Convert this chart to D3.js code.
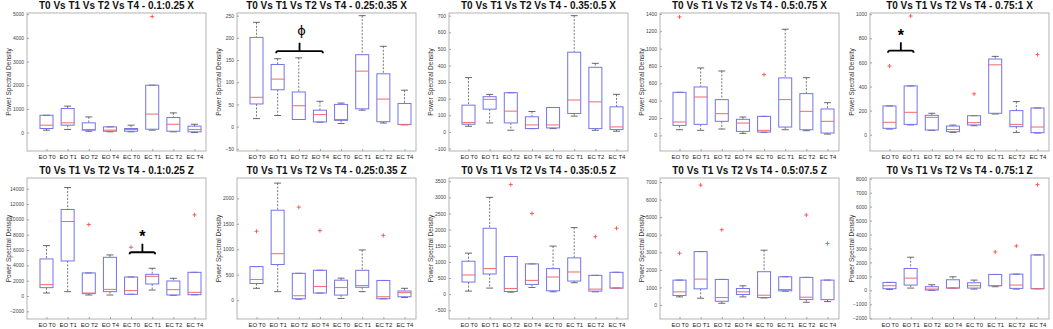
<!DOCTYPE html>
<html>
<head>
<meta charset="utf-8">
<script src="https://d3js.org/d3.v7.min.js"></script>
<style>
  body { margin:0; background:#fff; }
  svg { display:block; font-family:"Liberation Sans", Arial, sans-serif; }
</style>
</head>
<body>
<svg id="chart"></svg>
<script>
var categories = ["EO T0","EO T1","EO T2","EO T4","EC T0","EC T1","EC T2","EC T4"];

var titles = [
  "T0 Vs T1 Vs T2 Vs T4 - 0.1:0.25 X",
  "T0 Vs T1 Vs T2 Vs T4 - 0.25:0.35 X",
  "T0 Vs T1 Vs T2 Vs T4 - 0.35:0.5 X",
  "T0 Vs T1 Vs T2 Vs T4 - 0.5:0.75 X",
  "T0 Vs T1 Vs T2 Vs T4 - 0.75:1 X",
  "T0 Vs T1 Vs T2 Vs T4 - 0.1:0.25 Z",
  "T0 Vs T1 Vs T2 Vs T4 - 0.25:0.35 Z",
  "T0 Vs T1 Vs T2 Vs T4 - 0.35:0.5 Z",
  "T0 Vs T1 Vs T2 Vs T4 - 0.5:07.5 Z",
  "T0 Vs T1 Vs T2 Vs T4 - 0.75:1 Z"
];

// each box: [lower whisker, q1, median, q3, upper whisker]
var box01X = [[100,170,310,730,730],[130,310,410,1017,1115],[55,100,130,410,660],[30,55,100,240,240],
              [30,55,130,170,310],[100,140,780,2000,2000],[30,55,350,635,830],[0,30,130,270,350]];
var box025X = [[18,51,66,201,235],[25,83,107,140,153],[16,16,47,78,155],[10,10.5,27,37,57],
               [7,14,16,50,53],[37,40,125,162,250],[8,11,62,119,181],[4,4.5,5,52,82]];
var box035X = [[34,46,56,161,327],[54,137,196,212,226],[10,54,125,236,236],[20,20,42,91,123],
               [20,24,42,147,147],[95,111,192,480,700],[10,20,181,389,413],[4,14,30,151,226]];
var box05X = [[65,115,154,496,496],[58,127,442,558,777],[73,162,250,412,742],[23,46,142,185,212],
              [35,38,58,219,219],[65,96,412,662,1223],[54,65,277,481,665],[15,27,162,304,377]];
var box075X = [[47,53,103,239,239],[81,86,186,405,405],[36,39,144,161,178],[19,25,44,72,80],
               [75,81,100,158,158],[172,178,580,628,650],[19,67,86,200,275],[14,17,64,222,222]];
var box01Z = [[390,1090,1480,4840,6580],[570,4575,9720,11290,14160],[130,305,390,3010,3010],[130,570,870,5050,5360],
              [220,220,700,2480,2480],[780,1570,2570,2830,3620],[90,130,830,1960,2310],[170,170,480,3090,3090]];
var box025Z = [[233,327,407,660,660],[167,700,913,1767,2300],[20,27,87,527,527],[140,140,267,587,587],
               [33,100,247,393,433],[167,253,287,587,987],[27,27,67,387,387],[53,67,147,180,233]];
var box035Z = [[94,375,594,1021,1271],[188,625,792,2042,3000],[62,83,177,1167,1167],[208,302,427,938,938],
               [73,104,531,792,1490],[354,406,687,1125,2062],[73,94,156,583,583],[188,188,188,677,677]];
var box05Z = [[459,535,746,1415,1415],[382,918,1472,3040,3040],[96,210,421,1453,1453],[459,593,746,937,1090],
              [400,421,554,1893,3117],[784,803,880,1606,1606],[153,306,440,1568,1568],[191,306,306,1415,1415]];
var box075Z = [[71,119,333,570,570],[166,380,879,1568,2375],[0,24,95,261,404],[166,166,166,760,974],
               [95,166,333,546,736],[261,333,333,1140,1140],[95,143,380,1164,1164],[119,119,119,2541,2541]];

// outliers: [category index, value]
var out01X = [[5,4900]];
var out025X = [];
var out035X = [];
var out05X = [[0,1365],[4,700]];
var out075X = [[0,570],[1,985],[4,339],[7,665]];
var out01Z = [[2,9330],[4,6360],[7,10590]];
var out025Z = [[0,1353],[2,1827],[3,1367],[6,1273]];
var out035Z = [[2,3396],[3,2500],[6,1781],[7,2042]];
var out05Z = [[0,2945],[1,6826],[2,4283],[6,5124],[7,3499]];
var out075Z = [[5,2755],[6,3183],[7,7577]];

var yLimits = [[-780,5050],[-55,256],[-115,716],[-180,1410],[-135,1010],
               [-3000,15400],[-370,2400],[-770,3600],[-800,7230],[-2050,8050]];

var yTickValues = [
  [0,1000,2000,3000,4000,5000],
  [-50,0,50,100,150,200,250],
  [-100,0,100,200,300,400,500,600,700],
  [0,200,400,600,800,1000,1200,1400],
  [0,200,400,600,800,1000],
  [-2000,0,2000,4000,6000,8000,10000,12000,14000],
  [0,500,1000,1500,2000],
  [-500,0,500,1000,1500,2000,2500,3000,3500],
  [0,1000,2000,3000,4000,5000,6000,7000],
  [-2000,-1000,0,1000,2000,3000,4000,5000,6000,7000,8000]
];

// significance brackets: panel index, from category, to category, y value, symbol
var bracketPanels = [1, 4, 5];
var bracketFrom = ["EO T1","EO T0","EC T0"];
var bracketTo = ["EO T4","EO T1","EC T1"];
var bracketY = [170, 697, 5708];
var bracketSymbol = ["\u03D5","*","*"];

var boxes = [box01X,box025X,box035X,box05X,box075X,box01Z,box025Z,box035Z,box05Z,box075Z];
var outliers = [out01X,out025X,out035X,out05X,out075X,out01Z,out025Z,out035Z,out05Z,out075Z];

var width = 1053, height = 329;
var colLeft = [27, 237, 449, 660, 870];
var frameW = 179;
var rows = [{top:13, bottom:151}, {top:178, bottom:319}];
var boxW = 13;

var svg = d3.select("#chart").attr("width", width).attr("height", height);

var scales = [];

boxes.forEach(function(stats, p) {
  var row = rows[Math.floor(p / 5)];
  var left = colLeft[p % 5];

  var x = d3.scalePoint().domain(categories).range([left + 19.5, left + 167.5]);
  var y = d3.scaleLinear().domain(yLimits[p]).range([row.bottom, row.top]);
  scales.push({x:x, y:y});

  var g = svg.append("g");

  // frame
  g.append("rect")
    .attr("x", left).attr("y", row.top)
    .attr("width", frameW).attr("height", row.bottom - row.top)
    .attr("fill", "none").attr("stroke", "#a0a0a0").attr("stroke-width", 0.8);

  var yAxis = g.append("g")
    .attr("transform", "translate(" + left + ",0)")
    .call(d3.axisLeft(y).tickValues(yTickValues[p]).tickFormat(d3.format("d"))
      .tickSizeInner(-2).tickSizeOuter(0).tickPadding(3));
  yAxis.select(".domain").remove();
  yAxis.selectAll("line").attr("stroke", "#a0a0a0");
  yAxis.selectAll("text").attr("font-size", 5).attr("fill", "#444").attr("font-family", "Liberation Sans, Arial, sans-serif");

  var xAxis = g.append("g")
    .attr("transform", "translate(0," + row.bottom + ")")
    .call(d3.axisBottom(x).tickSizeInner(-2).tickSizeOuter(0).tickPadding(3.5));
  xAxis.select(".domain").remove();
  xAxis.selectAll("line").attr("stroke", "#a0a0a0");
  xAxis.selectAll("text").attr("font-size", 6).attr("fill", "#222").attr("font-family", "Liberation Sans, Arial, sans-serif");

  // y label
  g.append("text")
    .attr("transform", "translate(" + (left - 19) + "," + ((row.top + row.bottom) / 2) + ") rotate(-90)")
    .attr("text-anchor", "middle")
    .attr("dominant-baseline", "central")
    .attr("font-size", 6.5).attr("fill", "#333")
    .text("Power Spectral Density");

  // title
  g.append("text")
    .attr("x", left + frameW / 2)
    .attr("y", row.top - 4.5)
    .attr("text-anchor", "middle")
    .attr("font-size", 10).attr("font-weight", "bold").attr("fill", "#111")
    .text(titles[p]);

  // boxes
  var bx = g.selectAll("g.box").data(stats).enter().append("g").attr("class", "box");
  bx.append("line")
    .attr("x1", function(d, i) { return x(categories[i]); })
    .attr("x2", function(d, i) { return x(categories[i]); })
    .attr("y1", function(d) { return y(d[4]); })
    .attr("y2", function(d) { return y(d[3]); })
    .attr("stroke", "#555").attr("stroke-width", 0.8).attr("stroke-dasharray", "2,1.5");
  bx.append("line")
    .attr("x1", function(d, i) { return x(categories[i]); })
    .attr("x2", function(d, i) { return x(categories[i]); })
    .attr("y1", function(d) { return y(d[1]); })
    .attr("y2", function(d) { return y(d[0]); })
    .attr("stroke", "#555").attr("stroke-width", 0.8).attr("stroke-dasharray", "2,1.5");
  [0, 4].forEach(function(k) {
    bx.append("line")
      .attr("x1", function(d, i) { return x(categories[i]) - 3.5; })
      .attr("x2", function(d, i) { return x(categories[i]) + 3.5; })
      .attr("y1", function(d) { return y(d[k]); })
      .attr("y2", function(d) { return y(d[k]); })
      .attr("stroke", "#444").attr("stroke-width", 0.8);
  });
  bx.append("rect")
    .attr("x", function(d, i) { return x(categories[i]) - boxW / 2; })
    .attr("y", function(d) { return y(d[3]); })
    .attr("width", boxW)
    .attr("height", function(d) { return Math.max(0.5, y(d[1]) - y(d[3])); })
    .attr("fill", "none").attr("stroke", "#7373ee").attr("stroke-width", 1);
  bx.append("line")
    .attr("x1", function(d, i) { return x(categories[i]) - boxW / 2; })
    .attr("x2", function(d, i) { return x(categories[i]) + boxW / 2; })
    .attr("y1", function(d) { return y(d[2]); })
    .attr("y2", function(d) { return y(d[2]); })
    .attr("stroke", "#f06a6a").attr("stroke-width", 1);

  // outliers
  g.selectAll("path.out").data(outliers[p]).enter().append("path")
    .attr("class", "out")
    .attr("d", function(d) {
      var cx = x(categories[d[0]]), cy = y(d[1]);
      return "M" + (cx - 2) + "," + cy + "H" + (cx + 2) + "M" + cx + "," + (cy - 2) + "V" + (cy + 2);
    })
    .attr("fill", "none").attr("stroke", "#ff4d4d").attr("stroke-width", 0.9);
});

// significance brackets
bracketPanels.forEach(function(p, k) {
  var x = scales[p].x, y = scales[p].y;
  var x1 = x(bracketFrom[k]) - 1.5, x2 = x(bracketTo[k]) + 3;
  var by = y(bracketY[k]);
  var xm = (x1 + x2) / 2;
  svg.append("path")
    .attr("d", "M" + x1 + "," + (by + 2) + "Q" + x1 + "," + by + " " + (x1 + 2) + "," + by +
               "H" + (x2 - 2) + "Q" + x2 + "," + by + " " + x2 + "," + (by + 2) +
               "M" + xm + "," + by + "V" + (by - 8.5))
    .attr("fill", "none").attr("stroke", "#000").attr("stroke-width", 1.8);
  if (bracketSymbol[k] === "*") {
    svg.append("text")
      .attr("x", xm).attr("y", by - 10)
      .attr("text-anchor", "middle")
      .attr("font-size", 16).attr("font-weight", "bold")
      .text("*");
  } else {
    svg.append("text")
      .attr("x", xm + 2).attr("y", by - 16)
      .attr("text-anchor", "middle")
      .attr("font-family", "DejaVu Sans")
      .attr("font-size", 13)
      .text(bracketSymbol[k]);
  }
});
</script>
</body>
</html>
